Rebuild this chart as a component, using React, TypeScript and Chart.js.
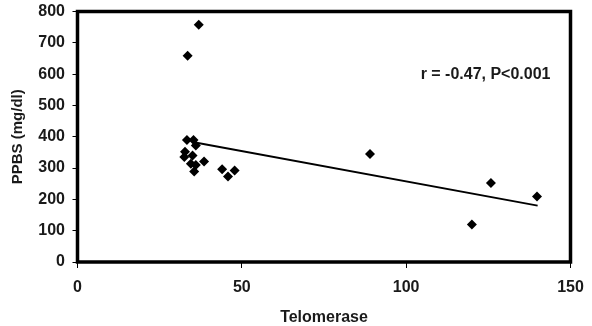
import React, { useEffect, useRef } from "react";
import { Chart, registerables } from "chart.js";

Chart.register(...registerables);

const telomerase = [33.3, 35.3, 36, 32.7, 32.5, 35, 34.5, 36, 38.5, 35.5, 44, 45.8, 47.8, 33.5, 36.9, 89, 120, 125.8, 139.8];
const ppbs = [390, 390, 372, 352, 335, 340, 314, 310, 321, 289, 296, 273, 292, 659, 758, 345, 120, 252, 209];
const trendX = [35, 140];
const trendY = [383, 180];
const xTicks = [0, 50, 100, 150];
const yTicks = [0, 100, 200, 300, 400, 500, 600, 700, 800];
const annotation = "r = -0.47, P<0.001";

const FONT = "'Liberation Sans', Arial, sans-serif";
const TEXT = "#1a1a1a";

export default function App() {
  const ref = useRef<HTMLCanvasElement>(null);
  useEffect(() => {
    document.body.style.margin = "0";
    const ctx = ref.current!;
    const borderPlugin = {
      id: "frame",
      afterDatasetsDraw(chart: any) {
        const { ctx: c, chartArea: a } = chart;
        c.save();
        c.strokeStyle = "#000";
        c.lineWidth = 3.5;
        c.strokeRect(a.left, a.top, a.right - a.left, a.bottom - a.top);
        c.font = `bold 16px ${FONT}`;
        c.fillStyle = TEXT;
        c.textAlign = "right";
        c.textBaseline = "middle";
        const y = chart.scales.y.getPixelForValue(597);
        c.fillText(annotation, a.right - 20, y);
        c.restore();
      },
    };
    const chart = new Chart(ctx, {
      type: "scatter",
      data: {
        datasets: [
          {
            data: telomerase.map((x, i) => ({ x, y: ppbs[i] })),
            pointStyle: "rectRot",
            pointRadius: 5,
            backgroundColor: "#000",
            borderColor: "#000",
            borderWidth: 0,
          },
          {
            type: "line",
            data: trendX.map((x, i) => ({ x, y: trendY[i] })),
            borderColor: "#000",
            borderWidth: 2,
            pointRadius: 0,
            fill: false,
          } as any,
        ],
      },
      options: {
        responsive: false,
        animation: false,
        layout: { padding: { left: 0, top: 11.5, right: 21.5, bottom: 0 } },
        plugins: { legend: { display: false }, tooltip: { enabled: false } },
        scales: {
          x: {
            type: "linear",
            min: 0,
            max: 150,
            afterBuildTicks: (s: any) => { s.ticks = xTicks.map((v) => ({ value: v })); },
            afterFit: (s: any) => { s.height = 64; s.paddingLeft = 0; s.paddingRight = 0; },
            grid: { drawOnChartArea: false, drawTicks: true, tickLength: 6, color: "#000" },
            border: { display: false },
            ticks: { font: { family: FONT, size: 16, weight: "bold" }, color: TEXT, padding: 10 },
            title: { display: true, text: "Telomerase", font: { family: FONT, size: 16, weight: "bold", lineHeight: 1 }, color: TEXT, padding: { top: 0, bottom: 0 } },
          },
          y: {
            type: "linear",
            min: 0,
            max: 800,
            afterBuildTicks: (s: any) => { s.ticks = yTicks.map((v) => ({ value: v })); },
            afterFit: (s: any) => { s.width = 77.5; s.paddingTop = 0; s.paddingBottom = 0; },
            grid: { drawOnChartArea: false, drawTicks: true, tickLength: 5, color: "#000" },
            border: { display: false },
            ticks: { font: { family: FONT, size: 16, weight: "bold" }, color: TEXT, padding: 7.5 },
            title: { display: true, text: "PPBS (mg/dl)", font: { family: FONT, size: 15, weight: "bold" }, color: TEXT, padding: { top: 9, bottom: 0 } },
          },
        },
      },
      plugins: [borderPlugin],
    });
    return () => chart.destroy();
  }, []);
  return (
    <div style={{ position: "absolute", left: 0, top: 0, width: 592, height: 326, background: "#fff" }}>
      <canvas ref={ref} width={592} height={326} />
    </div>
  );
}
